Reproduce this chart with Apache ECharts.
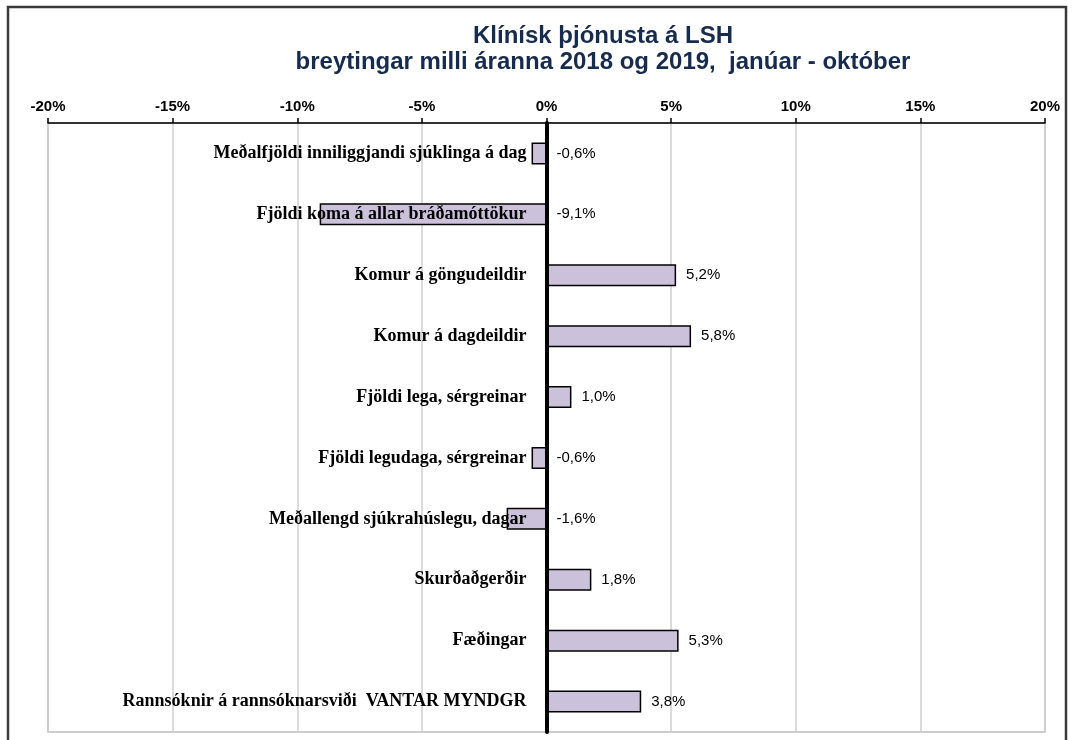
<!DOCTYPE html>
<html>
<head>
<meta charset="utf-8">
<script src="https://cdn.jsdelivr.net/npm/echarts@6/dist/echarts.min.js"></script>
<style>
html, body { margin: 0; padding: 0; background: #fff; }
#chart { width: 1073px; height: 740px; }
</style>
</head>
<body>
<div id="chart"></div>
<script>
// flokkar (efst fyrst)
const categories = [
    'Meðalfjöldi inniliggjandi sjúklinga á dag',
    'Fjöldi koma á allar bráðamóttökur',
    'Komur á göngudeildir',
    'Komur á dagdeildir',
    'Fjöldi lega, sérgreinar',
    'Fjöldi legudaga, sérgreinar',
    'Meðallengd sjúkrahúslegu, dagar',
    'Skurðaðgerðir',
    'Fæðingar',
    'Rannsóknir á rannsóknarsviði  VANTAR MYNDGR'
]
// breyting í %
const changes = [-0.6, -9.1, 5.2, 5.8, 1.0, -0.6, -1.6, 1.8, 5.3, 3.8]
// ás
const axisMin = -20
const axisMax = 20
const axisStep = 5

const chart = echarts.init(document.getElementById('chart'))

const fmtPct = v => v.toFixed(1).replace('.', ',') + '%'

const option = {
    animation: false,
    title: {
        text: 'Klínísk þjónusta á LSH\nbreytingar milli áranna 2018 og 2019,  janúar - október',
        left: 598,
        top: 18,
        textAlign: 'center',
        textStyle: {
            fontFamily: 'Liberation Sans',
            fontSize: 24,
            fontWeight: 'bold',
            color: '#172b4d',
            lineHeight: 26,
        },
    },
    graphic: [
        {
            // ytri rammi
            type: 'rect',
            shape: { x: 8, y: 7, width: 1058, height: 780 },
            style: { fill: 'none', stroke: '#3a3a3a', lineWidth: 2.5 },
            silent: true,
        },
    ],
    grid: {
        left: 48,
        right: 28,
        top: 123,
        bottom: 8,
        show: true,
        borderColor: '#bdbdbd',
        borderWidth: 1.5,
        containLabel: false,
        outerBoundsMode: 'none',
    },
    xAxis: {
        type: 'value',
        position: 'top',
        min: axisMin,
        max: axisMax,
        interval: axisStep,
        axisLine: {
            show: true,
            onZero: false,
            lineStyle: { color: '#000', width: 1.5 },
        },
        axisTick: {
            show: true,
            length: 5,
            lineStyle: { color: '#000', width: 1.5 },
        },
        axisLabel: {
            margin: 9,
            fontFamily: 'Liberation Sans',
            fontSize: 15,
            fontWeight: 'bold',
            color: '#000',
            formatter: v => v + '%',
        },
        splitLine: {
            show: true,
            lineStyle: { color: '#cfcfcf', width: 1.5 },
        },
    },
    yAxis: {
        type: 'category',
        data: categories,
        inverse: true,
        z: 5,
        axisLine: {
            show: true,
            onZero: true,
            lineStyle: { color: '#000', width: 4 },
        },
        axisTick: { show: false },
        splitLine: { show: false },
        axisLabel: { show: false },
    },
    series: [
        {
            type: 'bar',
            data: changes,
            barWidth: 22,
            z: 2,
            itemStyle: {
                color: '#ccc1da',
                borderColor: '#000',
                borderWidth: 1.5,
            },
            label: {
                show: true,
                position: 'right',
                distance: 10,
                fontFamily: 'Liberation Sans',
                fontSize: 15,
                color: '#000',
                formatter: p => fmtPct(p.value),
            },
        },
        {
            // flokkaheiti við núll-línuna
            type: 'scatter',
            data: categories.map(c => [0, c]),
            symbolSize: 0,
            z: 6,
            silent: true,
            itemStyle: { opacity: 1 },
            label: {
                show: true,
                position: 'left',
                distance: 20,
                fontFamily: 'Liberation Serif',
                fontSize: 18,
                fontWeight: 'bold',
                color: '#000',
                opacity: 1,
                formatter: p => p.value[1],
            },
        },
    ],
}

chart.setOption(option)
window.addEventListener('resize', () => {
    chart.resize()
})
</script>
</body>
</html>
